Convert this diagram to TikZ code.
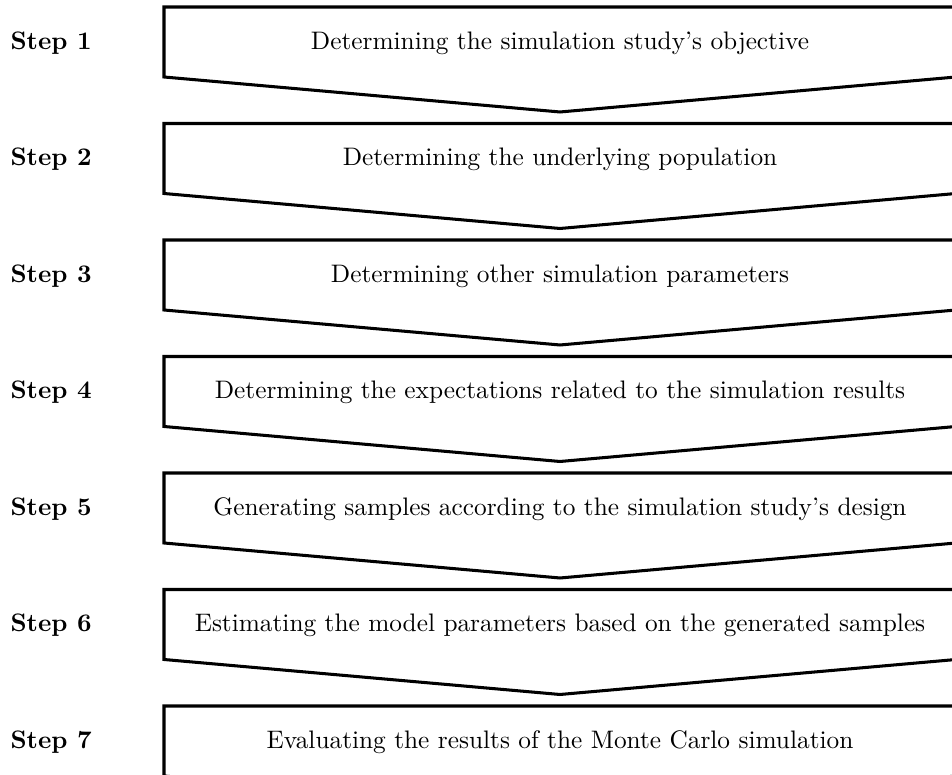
\documentclass[tikz,border=0pt]{standalone}
\begin{document}
\begin{tikzpicture}[x=0.395pt,y=-0.395pt,
  stepbox/.style={draw=black,line width=1.2pt,line join=miter,fill=white},
  steplabel/.style={font=\bfseries,anchor=west,inner sep=0pt},
  steptext/.style={anchor=center,inner sep=0pt}]
\useasboundingbox (0,0) rectangle (952,775);
\clip (0,0) rectangle (952,775);
\foreach \i/\t in {1/{Determining the simulation study's objective},
                   2/{Determining the underlying population},
                   3/{Determining other simulation parameters},
                   4/{Determining the expectations related to the simulation results},
                   5/{Generating samples according to the simulation study's design},
                   6/{Estimating the model parameters based on the generated samples},
                   7/{Evaluating the results of the Monte Carlo simulation}}{
  \pgfmathsetmacro{\top}{7+116.5*(\i-1)}
  % pentagon-like step arrow pointing down
  \draw[stepbox] (164,\top) -- (956,\top) -- (956,\top+70)
     -- (560,\top+105) -- (164,\top+70) -- cycle;
  \node[steptext] (box\i) at (560,\top+36) {\t};
  \node[steplabel] (lab\i) at (10,\top+36) {Step \i};
}
\end{tikzpicture}
\end{document}
